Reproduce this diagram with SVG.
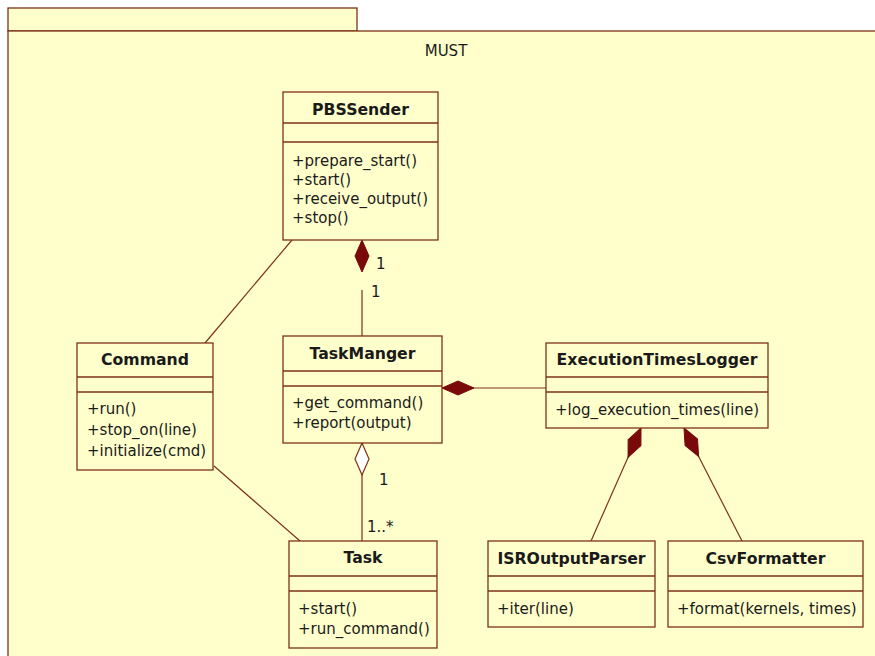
<svg xmlns="http://www.w3.org/2000/svg" width="875" height="656" viewBox="0 0 875 656">
<style>
.pkg{fill:#FFFFCC;stroke:#7d3216;stroke-width:1.3}
.box{fill:#FFFFCC;stroke:#7d3216;stroke-width:1.3}
.sep{stroke:#7d3216;stroke-width:1.3}
.t{font-family:"DejaVu Sans",Verdana,sans-serif;font-size:15px;fill:#1a1a1a}
.title{font-weight:bold;font-size:15.7px;text-anchor:middle}
.conn{stroke:#7d3216;stroke-width:1.2;fill:none}
</style>
<defs>
<marker id="comp" markerUnits="userSpaceOnUse" markerWidth="36" markerHeight="16" refX="1" refY="8" orient="auto" overflow="visible"><path d="M1,8 L17,1 L33,8 L17,15 Z" fill="#7a0a0a" stroke="#7a0a0a" stroke-width="1"/></marker>
<marker id="aggr" markerUnits="userSpaceOnUse" markerWidth="36" markerHeight="16" refX="1" refY="8" orient="auto" overflow="visible"><path d="M1,8 L17,1 L33,8 L17,15 Z" fill="#FFFFFF" stroke="#7d3216" stroke-width="1.2"/></marker>
</defs>
<rect x="0" y="0" width="875" height="656" fill="#FFFFFF"/>
<g id="package-MUST">
<rect class="pkg" x="8" y="8" width="349" height="23"/>
<rect class="pkg" x="8" y="31" width="880" height="640"/>
<text class="t" x="446" y="56" text-anchor="middle">MUST</text>
</g>
<g id="connectors">
<path class="conn" d="M292,240 L205,343"/>
<path class="conn" d="M214,466 L300,541"/>
<path d="M362,240 L362,274" fill="none" stroke="none" marker-start="url(#comp)"/>
<path class="conn" d="M362,290 L362,336"/>
<path class="conn" d="M442,388 L546,388" marker-start="url(#comp)"/>
<path class="conn" d="M362,443 L362,541" marker-start="url(#aggr)"/>
<path class="conn" d="M641,428 L591,541" marker-start="url(#comp)"/>
<path class="conn" d="M684,428 L742,541" marker-start="url(#comp)"/>
<text class="t" x="376" y="269">1</text>
<text class="t" x="371" y="297">1</text>
<text class="t" x="379" y="485">1</text>
<text class="t" x="367" y="532">1..*</text>
</g>
<g id="PBSSender">
<rect class="box" x="283" y="92" width="155" height="148"/>
<line class="sep" x1="283" y1="123" x2="438" y2="123"/>
<line class="sep" x1="283" y1="142" x2="438" y2="142"/>
<text class="t title" x="360.5" y="115">PBSSender</text>
<text class="t" x="292" y="166">+prepare_start()</text>
<text class="t" x="292" y="185">+start()</text>
<text class="t" x="292" y="204">+receive_output()</text>
<text class="t" x="292" y="223">+stop()</text>
</g>
<g id="Command">
<rect class="box" x="77" y="343" width="136" height="127"/>
<line class="sep" x1="77" y1="377" x2="213" y2="377"/>
<line class="sep" x1="77" y1="392" x2="213" y2="392"/>
<text class="t title" x="145" y="365">Command</text>
<text class="t" x="87" y="414">+run()</text>
<text class="t" x="87" y="435">+stop_on(line)</text>
<text class="t" x="87" y="456">+initialize(cmd)</text>
</g>
<g id="TaskManger">
<rect class="box" x="283" y="336" width="159" height="107"/>
<line class="sep" x1="283" y1="371" x2="442" y2="371"/>
<line class="sep" x1="283" y1="386" x2="442" y2="386"/>
<text class="t title" x="362.5" y="359">TaskManger</text>
<text class="t" x="292" y="408">+get_command()</text>
<text class="t" x="292" y="428">+report(output)</text>
</g>
<g id="ExecutionTimesLogger">
<rect class="box" x="546" y="343" width="222" height="85"/>
<line class="sep" x1="546" y1="377" x2="768" y2="377"/>
<line class="sep" x1="546" y1="392" x2="768" y2="392"/>
<text class="t title" x="657" y="365">ExecutionTimesLogger</text>
<text class="t" x="555" y="415">+log_execution_times(line)</text>
</g>
<g id="Task">
<rect class="box" x="289" y="541" width="148" height="107"/>
<line class="sep" x1="289" y1="576" x2="437" y2="576"/>
<line class="sep" x1="289" y1="591" x2="437" y2="591"/>
<text class="t title" x="363" y="563">Task</text>
<text class="t" x="298" y="614">+start()</text>
<text class="t" x="298" y="634">+run_command()</text>
</g>
<g id="ISROutputParser">
<rect class="box" x="488" y="541" width="167" height="86"/>
<line class="sep" x1="488" y1="576" x2="655" y2="576"/>
<line class="sep" x1="488" y1="591" x2="655" y2="591"/>
<text class="t title" x="571.5" y="564">ISROutputParser</text>
<text class="t" x="497" y="614">+iter(line)</text>
</g>
<g id="CsvFormatter">
<rect class="box" x="668" y="541" width="195" height="86"/>
<line class="sep" x1="668" y1="576" x2="863" y2="576"/>
<line class="sep" x1="668" y1="591" x2="863" y2="591"/>
<text class="t title" x="765.5" y="564">CsvFormatter</text>
<text class="t" x="677" y="614">+format(kernels, times)</text>
</g>
</svg>
